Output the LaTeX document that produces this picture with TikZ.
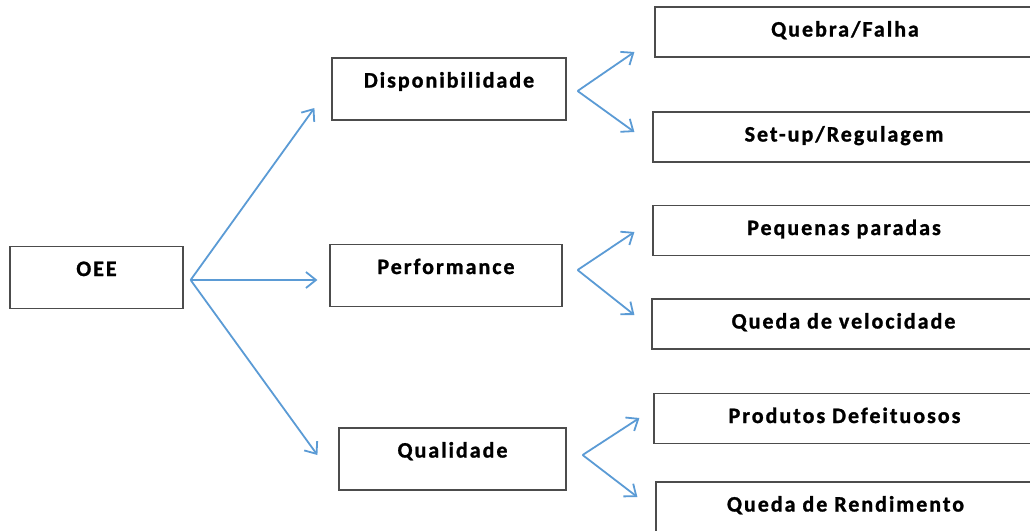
\documentclass[tikz,border=0pt]{standalone}
\usepackage{fontspec}
\setmainfont{Carlito}
\newfontfamily\boxfont[LetterSpace=9,BoldFeatures={FakeBold=1.2}]{Carlito}
\usetikzlibrary{arrows.meta, calc}
\definecolor{oeeblue}{RGB}{91,155,213}
\tikzset{
  blk/.style   = {draw=black!70, line width=1.2pt, inner xsep=0pt, inner ysep=0pt,
                  font=\boxfont\fontsize{22}{24}\selectfont\bfseries, text height=29.5pt},
  big/.style   = {blk, text depth=32.5pt},
  sub/.style   = {blk, text depth=20.5pt},
  fl/.style    = {-{Straight Barb[length=10pt, width=16pt, line width=1.8pt]},
                  line width=1.8pt, draw=oeeblue},
}
\begin{document}
\begin{tikzpicture}[x=1pt, y=-1pt]
\clip (0,0) rectangle (1030,530);
\useasboundingbox (0,0) rectangle (1030,530);
% --- main indicator and its three factors -------------------------------------------
\node[big, minimum width=173pt] (oee)  at (96.5,277.5) {OEE};
\node[big, minimum width=234pt] (disp) at (449,89)     {Disponibilidade};
\node[big, minimum width=232pt] (perf) at (446,275.5)  {Performance};
\node[big, minimum width=227pt] (qual) at (452.5,459)  {Qualidade};
% --- losses, two for each factor (boxes run past the right edge) ---------------------
\node[sub, minimum width=380pt] (quebra) at (845,32)    {Quebra/Falha};
\node[sub, minimum width=382pt] (setup)  at (844,137)   {Set-up/Regulagem};
\node[sub, minimum width=382pt] (peq)    at (844,230.5) {Pequenas paradas};
\node[sub, minimum width=383pt] (qvel)   at (843.5,324) {Queda de velocidade};
\node[sub, minimum width=381pt] (prod)   at (844.5,418.5) {Produtos Defeituosos};
\node[sub, minimum width=379pt] (qrend)  at (845.5,507) {Queda de Rendimento};

% branching points just off the boxes
\coordinate (oeeout)  at ($(oee.east)+(7,2.5)$);
\coordinate (dispout) at ($(disp.east)+(11,2)$);
\coordinate (perfout) at ($(perf.east)+(15,-5.5)$);
\coordinate (qualout) at ($(qual.east)+(16,-4)$);

\draw[fl] (oeeout) -- ($(disp.west)+(-17,19)$);
\draw[fl] (oeeout) -- ($(perf.west)+(-12,4.5)$);
\draw[fl] (oeeout) -- ($(qual.west)+(-21,-4)$);

\draw[fl] (dispout) -- ($(quebra.west)+(-20,20)$);
\draw[fl] (dispout) -- ($(setup.west)+(-18,-5)$);
\draw[fl] (perfout) -- ($(peq.west)+(-18,1.5)$);
\draw[fl] (perfout) -- ($(qvel.west)+(-17,-9)$);
\draw[fl] (qualout) -- ($(prod.west)+(-14,-0.5)$);
\draw[fl] (qualout) -- ($(qrend.west)+(-18,-10)$);
\end{tikzpicture}
\end{document}
